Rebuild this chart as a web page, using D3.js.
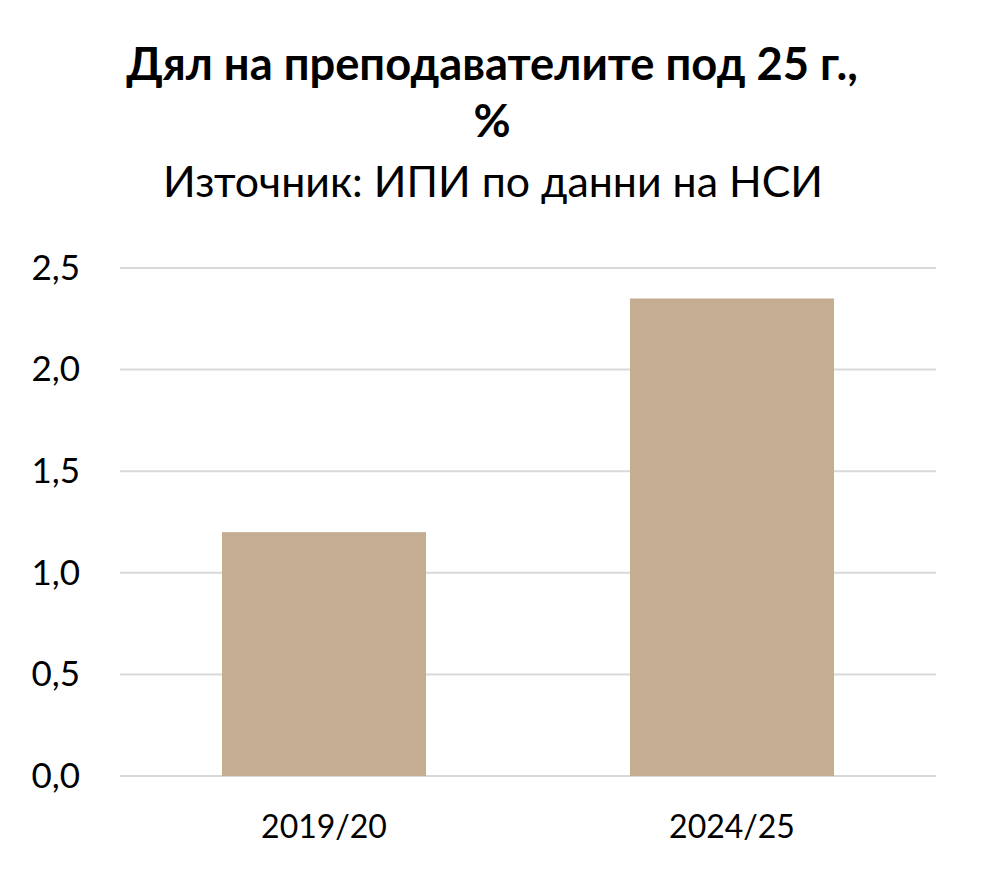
<!DOCTYPE html>
<html>
<head>
<meta charset="utf-8">
<script src="https://cdn.jsdelivr.net/npm/d3@7"></script>
<style>
html,body{margin:0;padding:0;background:#fff;}
text{font-family:Lato,"Open Sans",sans-serif;fill:#000;}
</style>
</head>
<body>
<svg id="chart" width="987" height="883"></svg>
<script>
const categories = ["2019/20", "2024/25"];
const values = [1.2, 2.35];
const yTicks = [0, 0.5, 1.0, 1.5, 2.0, 2.5];
const titleLines = ["Дял на преподавателите под 25 г.,", "%"];
const subtitle = "Източник: ИПИ по данни на НСИ";

const W = 987, H = 883;
const margin = {top: 268, right: 51, bottom: 107, left: 120};
const svg = d3.select("#chart");

const x = d3.scaleBand().domain(categories)
  .range([margin.left, W - margin.right])
  .paddingInner(0.5).paddingOuter(0.25);
const y = d3.scaleLinear().domain([0, 2.5]).range([H - margin.bottom, margin.top]);

const fmt = v => d3.format(".1f")(v).replace(".", ",");

// gridlines
svg.append("g").selectAll("line").data(yTicks).join("line")
  .attr("x1", margin.left).attr("x2", W - margin.right)
  .attr("y1", d => y(d)).attr("y2", d => y(d))
  .attr("stroke", "#d9d9d9").attr("stroke-width", 2);

// bars
svg.append("g").selectAll("rect").data(values).join("rect")
  .attr("x", (d, i) => x(categories[i]))
  .attr("width", x.bandwidth())
  .attr("y", d => y(d))
  .attr("height", d => y(0) - y(d))
  .attr("fill", "#c4ad91");

function fitText(sel, targetW, baseSize) {
  sel.style("font-size", baseSize + "px");
  const w = sel.node().getComputedTextLength();
  sel.style("font-size", (baseSize * targetW / w) + "px");
}

// y axis
const yAxis = d3.axisLeft(y).tickValues(yTicks).tickFormat(fmt).tickSize(0).tickPadding(40);
const gy = svg.append("g").attr("transform", `translate(${margin.left},0)`).call(yAxis);
gy.select(".domain").remove();
gy.selectAll("text").style("font-size", "35px").attr("fill", "#000")
  .style("font-family", "Lato, 'Open Sans', sans-serif");

// x axis
const xAxis = d3.axisBottom(x).tickSize(0).tickPadding(39);
const gx = svg.append("g").attr("transform", `translate(0,${H - margin.bottom})`).call(xAxis);
gx.select(".domain").remove();
gx.selectAll("text").style("font-family", "Lato, 'Open Sans', sans-serif").attr("fill", "#000")
  .style("font-size", "32px");

// title
const cx = 492;
const t1 = svg.append("text").attr("x", cx).attr("y", 80).attr("text-anchor", "middle")
  .style("font-weight", "bold").text(titleLines[0]);
fitText(t1, 732, 36);
const t2 = svg.append("text").attr("x", cx).attr("y", 137).attr("text-anchor", "middle")
  .style("font-weight", "bold").style("font-size", t1.style("font-size")).text(titleLines[1]);
const st = svg.append("text").attr("x", cx + 1).attr("y", 197).attr("text-anchor", "middle")
  .text(subtitle);
fitText(st, 660, 36);
</script>
</body>
</html>
